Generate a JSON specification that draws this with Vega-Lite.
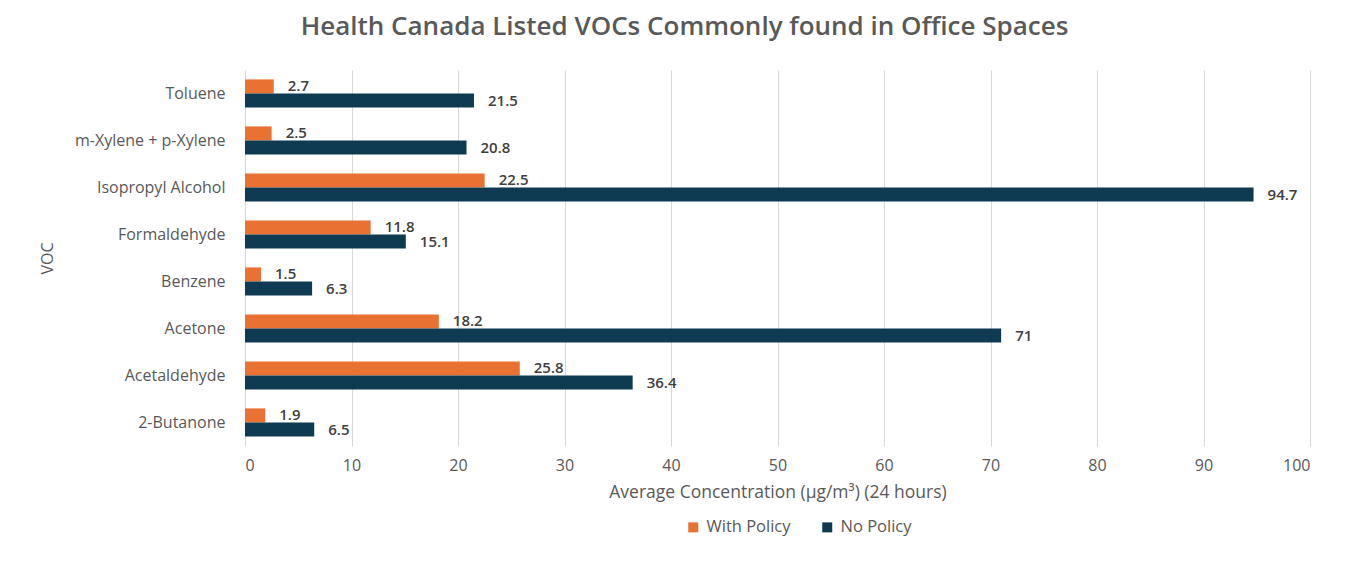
{
  "$schema": "https://vega.github.io/schema/vega-lite/v6.json",
  "width": 1065,
  "height": 376,
  "autosize": {"type": "none"},
  "padding": {"left": 245, "top": 70, "right": 39, "bottom": 116},
  "background": "white",
  "config": {
    "font": "Open Sans",
    "view": {"stroke": null}
  },
  "title": {
    "text": "Health Canada Listed VOCs Commonly found in Office Spaces",
    "frame": "group",
    "anchor": "middle",
    "dx": -93,
    "baseline": "alphabetic",
    "offset": 9,
    "fontSize": 26,
    "fontWeight": 600,
    "color": "#595959"
  },
  "data": {
    "values": [
      {"voc": "Toluene", "policy": "With Policy", "value": 2.7},
      {"voc": "Toluene", "policy": "No Policy", "value": 21.5},
      {"voc": "m-Xylene + p-Xylene", "policy": "With Policy", "value": 2.5},
      {"voc": "m-Xylene + p-Xylene", "policy": "No Policy", "value": 20.8},
      {"voc": "Isopropyl Alcohol", "policy": "With Policy", "value": 22.5},
      {"voc": "Isopropyl Alcohol", "policy": "No Policy", "value": 94.7},
      {"voc": "Formaldehyde", "policy": "With Policy", "value": 11.8},
      {"voc": "Formaldehyde", "policy": "No Policy", "value": 15.1},
      {"voc": "Benzene", "policy": "With Policy", "value": 1.5},
      {"voc": "Benzene", "policy": "No Policy", "value": 6.3},
      {"voc": "Acetone", "policy": "With Policy", "value": 18.2},
      {"voc": "Acetone", "policy": "No Policy", "value": 71},
      {"voc": "Acetaldehyde", "policy": "With Policy", "value": 25.8},
      {"voc": "Acetaldehyde", "policy": "No Policy", "value": 36.4},
      {"voc": "2-Butanone", "policy": "With Policy", "value": 1.9},
      {"voc": "2-Butanone", "policy": "No Policy", "value": 6.5}
    ]
  },
  "encoding": {
    "y": {
      "field": "voc",
      "type": "nominal",
      "sort": ["Toluene", "m-Xylene + p-Xylene", "Isopropyl Alcohol", "Formaldehyde", "Benzene", "Acetone", "Acetaldehyde", "2-Butanone"],
      "scale": {"paddingInner": 0.4, "paddingOuter": 0.2},
      "axis": {
        "title": "VOC",
        "domain": false,
        "ticks": false,
        "grid": false,
        "labelPadding": 20,
        "labelFontSize": 16,
        "labelColor": "#595959",
        "titleFontSize": 16,
        "titleFontWeight": "normal",
        "titleColor": "#595959",
        "titleX": -198,
        "titleY": 188,
        "titleAngle": -90,
        "titleAlign": "center",
        "titleBaseline": "middle"
      }
    },
    "yOffset": {"field": "policy", "sort": ["With Policy", "No Policy"]},
    "x": {
      "field": "value",
      "type": "quantitative",
      "scale": {"domain": [0, 100], "nice": false},
      "axis": {
        "title": "Average Concentration (µg/m³) (24 hours)",
        "values": [0, 10, 20, 30, 40, 50, 60, 70, 80, 90, 100],
        "domain": false,
        "ticks": false,
        "grid": true,
        "gridColor": "#d9d9d9",
        "gridWidth": 1,
        "labelPadding": 11,
        "labelFontSize": 16,
        "labelColor": "#595959",
        "titleFontSize": 17.5,
        "titleFontWeight": "normal",
        "titleColor": "#595959",
        "titlePadding": 10
      }
    }
  },
  "layer": [
    {
      "mark": {"type": "bar"},
      "encoding": {
        "color": {
          "field": "policy",
          "type": "nominal",
          "sort": ["With Policy", "No Policy"],
          "scale": {"domain": ["With Policy", "No Policy"], "range": ["#E97132", "#0E3A52"]},
          "legend": {
            "title": null,
            "orient": "none",
            "direction": "horizontal",
            "legendX": 440,
            "legendY": 449,
            "symbolType": "square",
            "symbolSize": 100,
            "symbolStrokeWidth": 0,
            "labelFontSize": 16.5,
            "labelColor": "#595959",
            "labelOffset": 5,
            "columnPadding": 28
          }
        }
      }
    },
    {
      "mark": {"type": "text", "align": "left", "baseline": "middle", "dx": 14, "fontSize": 15, "fontWeight": 600, "color": "#404040"},
      "encoding": {
        "text": {"field": "value", "type": "quantitative", "format": ".1~f"}
      }
    }
  ]
}
